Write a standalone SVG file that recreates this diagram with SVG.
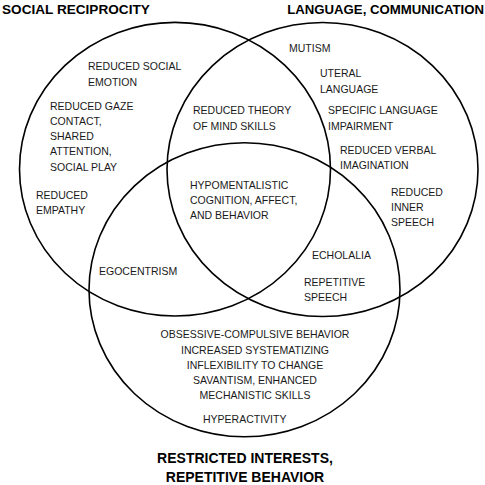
<svg xmlns="http://www.w3.org/2000/svg" width="485" height="485" viewBox="0 0 485 485">
<style>
.set{fill:none;stroke:#000;stroke-width:1.6}
.t{font-family:"Liberation Sans",Arial,sans-serif;font-size:10.5px;fill:#1a1a1a}
.h{font-family:"Liberation Sans",Arial,sans-serif;font-size:13.6px;font-weight:bold;fill:#000}
.c{text-anchor:middle}
</style>
<rect width="485" height="485" fill="#fff"/>
<g id="set-social">
<ellipse class="set" cx="175" cy="169.2" rx="155.5" ry="146.8"/>
<text class="h" x="2" y="14">SOCIAL RECIPROCITY</text>
</g>
<g id="set-language">
<ellipse class="set" cx="322.5" cy="169.5" rx="155.5" ry="147"/>
<text class="h" x="484" y="14" text-anchor="end" style="font-size:13.2px">LANGUAGE, COMMUNICATION</text>
</g>
<g id="set-restricted">
<ellipse class="set" cx="244.5" cy="289.8" rx="155.5" ry="147"/>
<text class="h c" x="245" y="463" style="font-size:14px">RESTRICTED INTERESTS,</text>
<text class="h c" x="245" y="482" style="font-size:14px">REPETITIVE BEHAVIOR</text>
</g>
<g id="social-only">
<text class="t" x="88" y="70">REDUCED SOCIAL</text>
<text class="t" x="88" y="86">EMOTION</text>
<text class="t" x="50" y="110">REDUCED GAZE</text>
<text class="t" x="50" y="125">CONTACT,</text>
<text class="t" x="50" y="140">SHARED</text>
<text class="t" x="50" y="155">ATTENTION,</text>
<text class="t" x="50" y="171">SOCIAL PLAY</text>
<text class="t" x="36" y="199">REDUCED</text>
<text class="t" x="36" y="214">EMPATHY</text>
</g>
<g id="social-language">
<text class="t" x="193" y="114">REDUCED THEORY</text>
<text class="t" x="193" y="130">OF MIND SKILLS</text>
</g>
<g id="language-only">
<text class="t" x="289" y="52">MUTISM</text>
<text class="t" x="320" y="77">UTERAL</text>
<text class="t" x="320" y="93">LANGUAGE</text>
<text class="t" x="328" y="114">SPECIFIC LANGUAGE</text>
<text class="t" x="328" y="130">IMPAIRMENT</text>
<text class="t" x="340" y="154">REDUCED VERBAL</text>
<text class="t" x="340" y="169">IMAGINATION</text>
<text class="t" x="391" y="196">REDUCED</text>
<text class="t" x="391" y="211">INNER</text>
<text class="t" x="391" y="226">SPEECH</text>
</g>
<g id="all-three">
<text class="t" x="190" y="189">HYPOMENTALISTIC</text>
<text class="t" x="190" y="204">COGNITION, AFFECT,</text>
<text class="t" x="190" y="219">AND BEHAVIOR</text>
</g>
<g id="social-restricted">
<text class="t" x="99" y="275">EGOCENTRISM</text>
</g>
<g id="language-restricted">
<text class="t" x="312" y="259">ECHOLALIA</text>
<text class="t" x="304" y="286">REPETITIVE</text>
<text class="t" x="304" y="301">SPEECH</text>
</g>
<g id="restricted-only">
<text class="t c" x="255" y="338">OBSESSIVE-COMPULSIVE BEHAVIOR</text>
<text class="t c" x="255" y="354">INCREASED SYSTEMATIZING</text>
<text class="t c" x="255" y="369">INFLEXIBILITY TO CHANGE</text>
<text class="t c" x="255" y="384">SAVANTISM, ENHANCED</text>
<text class="t c" x="255" y="399">MECHANISTIC SKILLS</text>
<text class="t" x="203" y="423">HYPERACTIVITY</text>
</g>
<g id="connectors"></g>
</svg>
